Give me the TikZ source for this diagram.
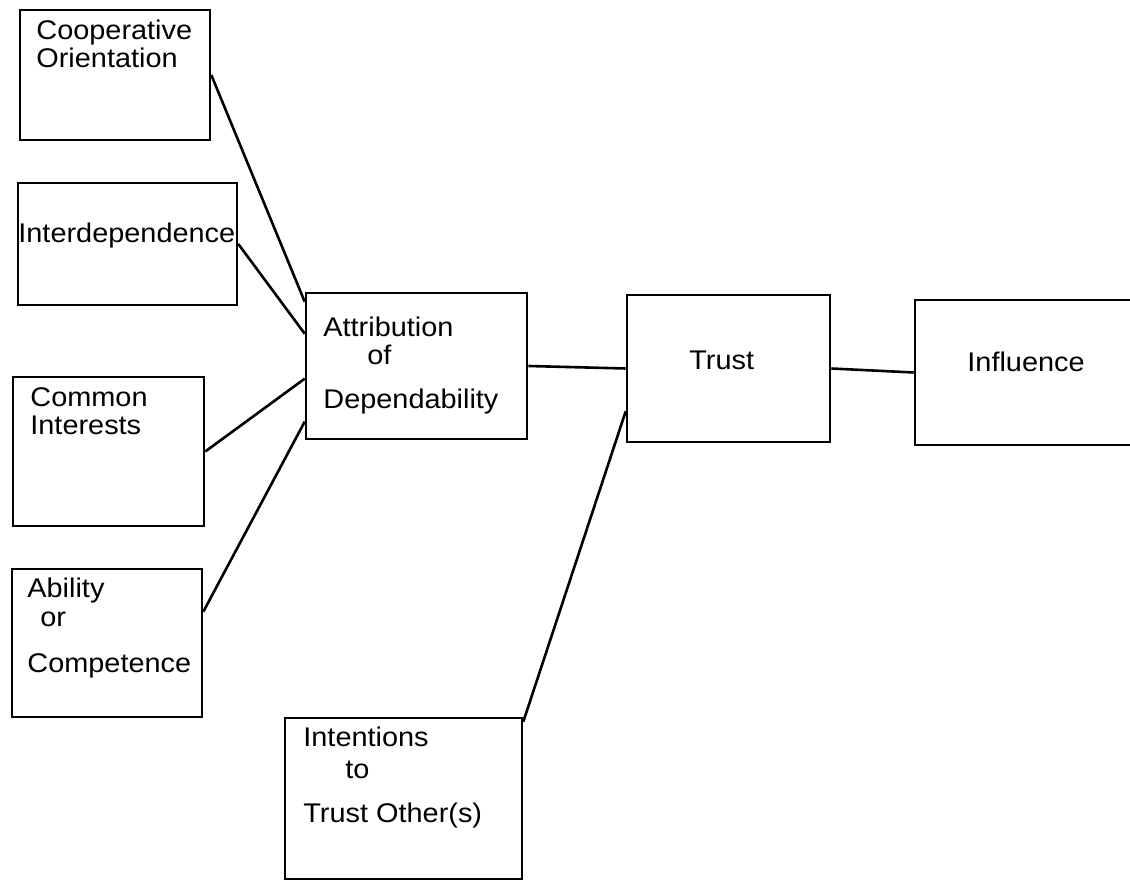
\documentclass[tikz,border=0pt]{standalone}
\usepackage{fontspec}
\setmainfont[FakeStretch=1.07]{Liberation Sans}
\usetikzlibrary{calc}
\begin{document}
\begin{tikzpicture}[x=0.5pt,y=-0.5pt]
 \tikzset{box/.style={draw, line width=1.3pt, inner sep=0pt}}
 \tikzset{txt/.style={anchor=base west, inner sep=0pt, font=\fontsize{13.5}{15}\selectfont}}
 \tikzset{link/.style={line width=1.3pt}}
  \clip (0,0) rectangle (1130,881);
  % boxes
  \node[box, minimum width=95pt, minimum height=65pt] (COOP) at (115,75) {};
  \node[box, minimum width=109.5pt, minimum height=61pt] (INTERDEP) at (127.5,244) {};
  \node[box, minimum width=95.5pt, minimum height=74.5pt] (COMMON) at (108.5,451.5) {};
  \node[box, minimum width=95pt, minimum height=74pt] (ABILITY) at (107,643) {};
  \node[box, minimum width=110.5pt, minimum height=73pt] (ATTRIB) at (416.5,366) {};
  \node[box, minimum width=101.5pt, minimum height=73.5pt] (TRUST) at (728.5,368.5) {};
  \node[box, minimum width=112.5pt, minimum height=72.5pt] (INFLU) at (1027.5,372.5) {};
  \node[box, minimum width=118.5pt, minimum height=80.5pt] (INTENT) at (403.5,798.5) {};
  % texts
  \node[txt] (COOP1) at (36,40) {Cooperative};
  \node[txt] (COOP2) at (36,68) {Orientation};
  \node[txt] (INTERDEP1) at (18,243) {Interdependence};
  \node[txt] (COMMON1) at (30,407) {Common};
  \node[txt] (COMMON2) at (30,435) {Interests};
  \node[txt] (ABILITY1) at (27,598) {Ability};
  \node[txt] (ABILITY2) at (40,627) {or};
  \node[txt] (ABILITY3) at (27,673) {Competence};
  \node[txt] (ATTRIB1) at (323,337) {Attribution};
  \node[txt] (ATTRIB2) at (367,365) {of};
  \node[txt] (ATTRIB3) at (323,409) {Dependability};
  \node[txt] (TRUST1) at (689,370) {Trust};
  \node[txt] (INFLU1) at (967,372) {Influence};
  \node[txt] (INTENT1) at (303,747) {Intentions};
  \node[txt] (INTENT2) at (345,778) {to};
  \node[txt] (INTENT3) at (303,822) {Trust Other(s)};
  % links
  \draw[link] (COOP.east) -- ($(ATTRIB.north west)+(0,10)$);
  \draw[link] (INTERDEP.east) -- ($(ATTRIB.north west)+(0,42)$);
  \draw[link] (COMMON.east) -- ($(ATTRIB.north west)+(0,87)$);
  \draw[link] ($(ABILITY.north east)+(0,44)$) -- ($(ATTRIB.north west)+(0,130)$);
  \draw[link] (ATTRIB.east) -- (TRUST.west);
  \draw[link] (TRUST.east) -- (INFLU.west);
  \draw[link] ($(INTENT.north east)+(0,5)$) -- ($(TRUST.south west)+(0,-32)$);
\end{tikzpicture}
\end{document}
